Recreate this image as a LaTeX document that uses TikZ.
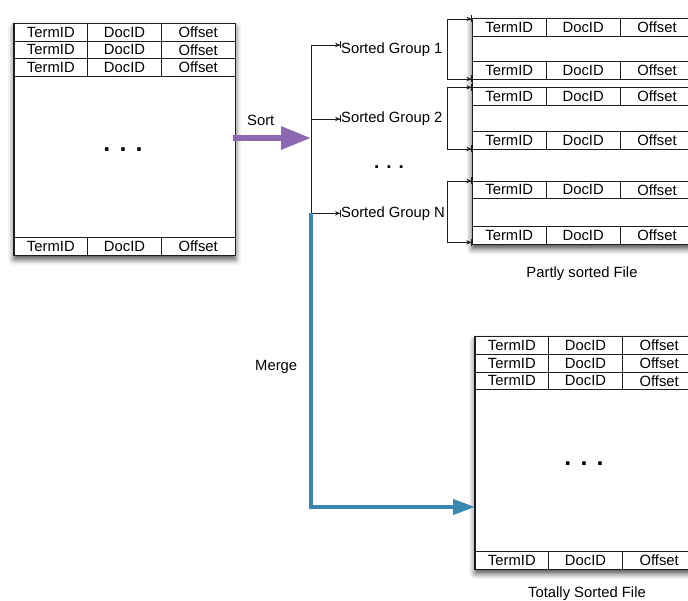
\documentclass[tikz,border=0pt]{standalone}
\usepackage{fontspec}
\setmainfont{Liberation Sans}
\usetikzlibrary{arrows.meta,shadows.blur}

\definecolor{sortpurple}{RGB}{140,104,178}
\definecolor{mergeblue}{RGB}{58,135,176}
\definecolor{inkline}{RGB}{30,30,30}

\tikzset{
  filebg/.style={fill=white, inner sep=0pt, anchor=north west,
    blur shadow={shadow xshift=0pt, shadow yshift=-4pt,
                 shadow blur radius=6pt, shadow opacity=75}},
  boxedge/.style={draw=inkline, line width=1.5pt},
  rowline/.style={draw=inkline, line width=0.9pt},
  cell/.style={inner sep=0pt, text=black, font=\fontsize{14.8}{16}\selectfont},
  txt/.style={inner sep=0pt, text=black, font=\fontsize{14.8}{16}\selectfont},
  dots/.style={inner sep=0pt, font=\bfseries\fontsize{25}{25}\selectfont},
  spine/.style={draw=inkline, line width=0.9pt},
  gtip/.style={draw=inkline, line width=0.9pt,
    -{Stealth[length=5pt,width=4.5pt]Bar[width=7pt]}},
  sortarrow/.style={draw=sortpurple, line width=6pt,
    -{Triangle[length=30pt,width=22pt]}},
  mergearrow/.style={draw=mergeblue, line width=4pt,
    -{Triangle[length=22pt,width=15pt]}},
}

% one record: TermID | DocID | Offset
% #1 name prefix, #2 left x, #3 top y, #4 cell width
\newcommand\FileRow[4]{%
  \draw[rowline] (#2,#3) rectangle ++(3*#4,17.7);
  \draw[rowline] (#2+#4,#3) -- ++(0,17.7) (#2+2*#4,#3) -- ++(0,17.7);
  \node[cell] (#1a) at (#2+0.5*#4,#3+8.85) {TermID};
  \node[cell] (#1b) at (#2+1.5*#4,#3+8.85) {DocID};
  \node[cell] (#1c) at (#2+2.5*#4,#3+8.85) {Offset};
}

\begin{document}
\begin{tikzpicture}[x=1pt,y=-1pt]
\useasboundingbox (0,0) rectangle (688,601);

% ---------- unsorted input file ----------
\node[filebg, minimum width=221pt, minimum height=231.7pt] (src) at (14,23.3) {};
\FileRow{sa}{14}{23.3}{73.67}
\FileRow{sb}{14}{41}{73.67}
\FileRow{sc}{14}{58.7}{73.67}
\FileRow{sz}{14}{237.3}{73.67}
\draw[boxedge] (src.north west) rectangle (src.south east);
\node[dots] (srcdots) at (123,150) {. . .};

% ---------- partly sorted file ----------
\node[filebg, minimum width=221.7pt, minimum height=226pt] (part) at (472.3,18.3) {};
\FileRow{pa}{472.3}{18.3}{73.9}
\FileRow{pb}{472.3}{61.7}{73.9}
\FileRow{pc}{472.3}{87.3}{73.9}
\FileRow{pd}{472.3}{131.7}{73.9}
\FileRow{pe}{472.3}{181}{73.9}
\FileRow{pf}{472.3}{226.6}{73.9}
\draw[boxedge] (part.north west) rectangle (part.south east);
\node[txt, anchor=base] (partcap) at (582,278) {Partly sorted File};

% ---------- totally sorted file ----------
\node[filebg, minimum width=221pt, minimum height=232.3pt] (dst) at (475,336.7) {};
\FileRow{ta}{475}{336.7}{73.67}
\FileRow{tb}{475}{354.4}{73.67}
\FileRow{tc}{475}{372.1}{73.67}
\FileRow{tz}{475}{551.3}{73.67}
\draw[boxedge] (dst.north west) rectangle (dst.south east);
\node[dots] (dstdots) at (584,464) {. . .};
\node[txt, anchor=base] (dstcap) at (587,597) {Totally Sorted File};

% ---------- sorted groups ----------
\node[txt, anchor=base west] (g1) at (341,53.3) {Sorted Group 1};
\node[txt, anchor=base west] (g2) at (341,123) {Sorted Group 2};
\node[txt, anchor=base west] (gN) at (341,218) {Sorted Group N};
\node[inner sep=0pt, font=\bfseries\fontsize{19}{19}\selectfont] (gdots) at (389,167) {. . .};

% spine points
\coordinate (s1) at (311,45);
\coordinate (s2) at (311,119);
\coordinate (sN) at (311,213.3);
\coordinate (sorthit) at (311,138);
\coordinate (mturn) at (311,507);

% sort step
\node[txt, anchor=base west] (sortlbl) at (247,126) {Sort};
\draw[sortarrow] ([xshift=-2pt]src.east |- sorthit) -- (sorthit);
\draw[spine] (s1) -- (sN);
\draw[gtip] (s1) -- (g1.west |- s1);
\draw[gtip] (s2) -- (g2.west |- s2);
\draw[gtip] (sN) -- (gN.west |- sN);

% brackets from each group into the partly sorted file
\coordinate (b1) at (447,49);
\coordinate (b2) at (447,118);
\coordinate (bN) at (447,212);
\coordinate (p1t) at (part.west |- 0,19);
\coordinate (p1b) at (part.west |- 0,79);
\coordinate (p2t) at (part.west |- 0,87.3);
\coordinate (p2b) at (part.west |- 0,149);
\coordinate (pNt) at (part.west |- 0,181);
\coordinate (pNb) at (part.west |- 0,242.3);
\draw[gtip] (b1) |- (p1t);
\draw[gtip] (b1) |- (p1b);
\draw[gtip] (b2) |- (p2t);
\draw[gtip] (b2) |- (p2b);
\draw[gtip] (bN) |- (pNt);
\draw[gtip] (bN) |- (pNb);

% merge step
\node[txt, anchor=base west] (mergelbl) at (255,370.7) {Merge};
\draw[mergearrow] (sN) -- (mturn) -- (dst.west |- mturn);
\end{tikzpicture}
\end{document}
